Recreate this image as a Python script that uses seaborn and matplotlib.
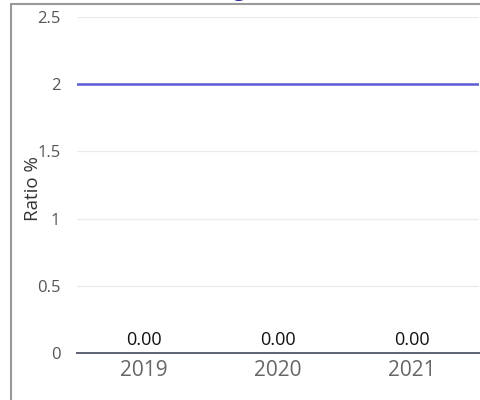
import matplotlib
matplotlib.use("Agg")
import matplotlib.pyplot as plt
from matplotlib.lines import Line2D
import seaborn as sns
import pandas as pd

years = ["2019", "2020", "2021"]
ratios = [0.0, 0.0, 0.0]
target = 2.0
y_ticks = [0, 0.5, 1, 1.5, 2, 2.5]
y_tick_labels = ["0", "0.5", "1", "1.5", "2", "2.5"]

sns.set_theme(style="white")
plt.rcParams["font.family"] = ["Open Sans", "DejaVu Sans"]

df = pd.DataFrame({"year": years, "ratio": ratios})

fig = plt.figure(figsize=(4.81, 4.0), dpi=100)
ax = fig.add_axes([0.160, 0.1175, 0.836, 0.84])

sns.barplot(data=df, x="year", y="ratio", color="#5b5bd6", width=0.6, ax=ax)

# target line
ax.axhline(target, color="#5b5bd6", lw=1.8, zorder=3)

ax.set_ylim(0, 2.5)
ax.set_xlim(-0.5, 2.5)
ax.set_yticks(y_ticks)
ax.set_yticklabels(y_tick_labels)
ax.yaxis.grid(True, color="#ebebeb", lw=0.9)
ax.set_axisbelow(True)

for s in ["top", "right", "left"]:
    ax.spines[s].set_visible(False)
ax.spines["bottom"].set_color("#5d6272")
ax.spines["bottom"].set_linewidth(1.4)

ax.tick_params(axis="y", length=0, labelsize=12, labelcolor="#555555", pad=12)
ax.tick_params(axis="x", which="major", length=0, labelsize=15, labelcolor="#666666", pad=5)
ax.set_xticks([-0.5, 0.5, 1.5, 2.5], minor=True)
ax.tick_params(axis="x", which="minor", length=8, width=0.8, color="#d0d8e4")

ax.set_xlabel("")
ax.set_ylabel("Ratio %", fontsize=13.5, color="#333333")
ax.yaxis.set_label_coords(-0.088, 0.49)

for c in ax.containers:
    ax.bar_label(c, labels=[f"{v:.2f}" for v in ratios], padding=3,
                 fontsize=13, color="#111111")

# outer frame
fig.add_artist(Line2D([0.023, 0.023], [0.0, 0.99], transform=fig.transFigure,
                      color="#9a9a9a", lw=1.5))
fig.add_artist(Line2D([0.023, 1.0], [0.99, 0.99], transform=fig.transFigure,
                      color="#9a9a9a", lw=1.5))

fig.text(0.5, 1.011, "Leverage Ratio", ha="center", va="baseline",
         fontsize=15, fontweight="bold", color="#2b2ba0")

fig.savefig("out.png", dpi=100)
